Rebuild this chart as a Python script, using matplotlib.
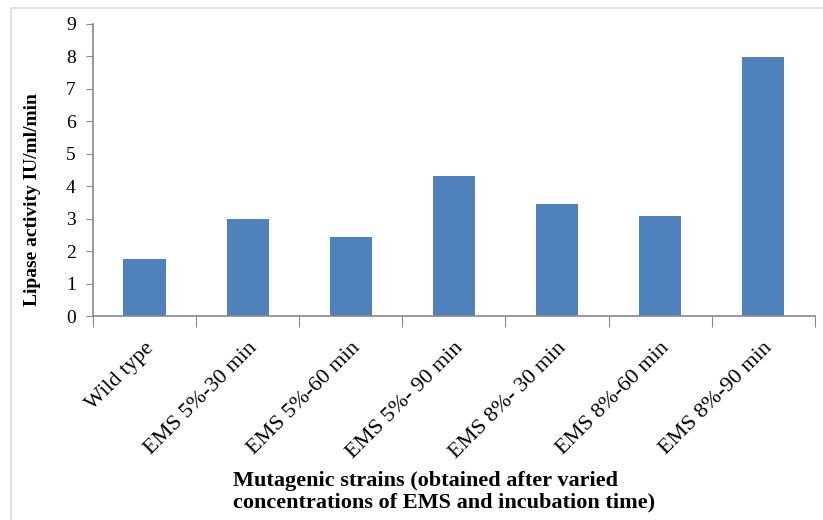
import numpy as np
import matplotlib.pyplot as plt
from matplotlib.patches import Rectangle

strains = ['Wild type', 'EMS 5%-30 min', 'EMS 5%-60 min', 'EMS 5%- 90 min',
           'EMS 8%- 30 min', 'EMS 8%-60 min', 'EMS 8%-90 min']
activity = [1.77, 3.0, 2.45, 4.33, 3.44, 3.07, 7.97]

plt.rcParams['font.family'] = ['Liberation Serif', 'DejaVu Serif']

fig = plt.figure(figsize=(8.23, 5.2), dpi=100)
# light frame around the chart area
fig.patches.append(Rectangle((11 / 823, -0.05), 1.2, 1 - 8 / 520 + 0.05,
                             transform=fig.transFigure, fill=False,
                             edgecolor='#d9d9d9', linewidth=1.2))

ax = fig.add_axes([0.113, 0.392, 0.877, 0.562])
x = np.arange(len(strains))
ax.bar(x, activity, width=0.41, color='#4F81BD', zorder=2)

ax.set_xlim(-0.5, len(strains) - 0.5)
ax.set_ylim(0, 9)
ax.set_yticks(range(0, 10))
ax.tick_params(axis='y', labelsize=14, length=5, color='#888888', direction='out', pad=7.5)

# category boundary ticks, labels at centers
ax.set_xticks(np.arange(-0.5, len(strains), 1.0))
ax.set_xticklabels([])
ax.tick_params(axis='x', which='major', length=8, color='#888888')
ax.set_xticks(x, minor=True)
ax.set_xticklabels(strains, minor=True, rotation=45, ha='right', rotation_mode='anchor',
                   fontsize=16)
ax.tick_params(axis='x', which='minor', length=0, pad=16)

for s in ['top', 'right']:
    ax.spines[s].set_visible(False)
for s in ['left', 'bottom']:
    ax.spines[s].set_color('#888888')
    ax.spines[s].set_linewidth(1.2)

ax.set_ylabel('Lipase activity IU/ml/min', fontsize=14, fontweight='bold')
ax.yaxis.set_label_coords(-0.072, 0.40)
fig.text(0.540, 0.014, 'Mutagenic strains (obtained after varied\nconcentrations of EMS and incubation time)',
         ha='center', va='bottom', multialignment='left', fontsize=16, fontweight='bold',
         linespacing=1.1)

fig.savefig('out.png', dpi=100)
